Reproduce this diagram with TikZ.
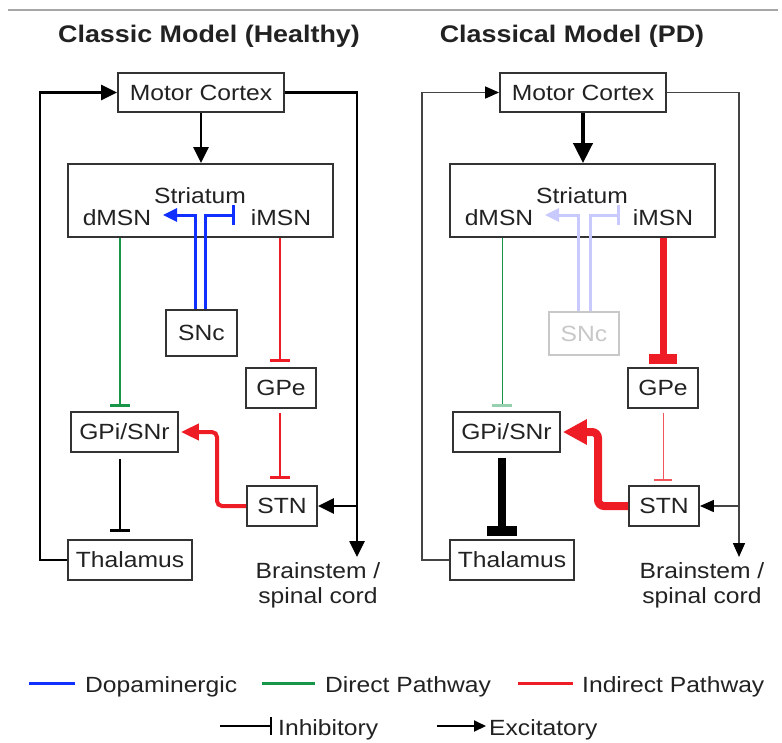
\documentclass[tikz,border=0pt]{standalone}
\usepackage{fontspec}
\setmainfont{Liberation Sans}[FakeStretch=1.12]
\usetikzlibrary{arrows.meta}
\definecolor{boxc}{HTML}{333333}
\definecolor{txtc}{HTML}{222222}
\definecolor{dopc}{HTML}{1030FF}
\definecolor{dirc}{HTML}{17964A}
\definecolor{indc}{HTML}{EE1C25}
\definecolor{fadeb}{HTML}{C8CAFF}
\definecolor{fadeg}{HTML}{C8C8C8}
\definecolor{thinc}{HTML}{444444}
\begin{document}
\begin{tikzpicture}[x=1pt,y=-1pt,
	box/.style={draw=boxc,line width=1.8pt,fill=white,inner sep=0pt,text=txtc,font=\fontsize{22}{25}\selectfont},
	lbl/.style={inner sep=0pt,text=txtc,font=\fontsize{22}{25}\selectfont},
	ttl/.style={inner sep=0pt,text=txtc,font=\bfseries\fontsize{24}{28}\selectfont},
	exc/.style={-{Triangle[length=16pt,width=15pt]}},
	inh/.style={-{Rectangle[length=3pt,width=20pt]}},
	dop/.style={dopc,line width=3pt},
	dir/.style={dirc,line width=2pt},
	ind/.style={indc,line width=2pt},
	blk/.style={black,line width=2.6pt},
	thin/.style={thinc,line width=1.5pt}]
	\useasboundingbox (0,0) rectangle (782,742);
	\draw[gray!70,line width=2pt] (8,10) -- (778,10);
		\node[ttl,anchor=base] (ttlA) at (209,42) {Classic Model (Healthy)};
		\node[box,minimum width=166pt,minimum height=39pt] (mc) at (201,92.5) {Motor Cortex};
		\node[box,minimum width=265pt,minimum height=73pt] (str) at (200.5,200.5) {};
		\node[lbl] (stri) at (200,196) {Striatum};
		\node[lbl] (dmsn) at (117,218) {dMSN};
		\node[lbl] (imsn) at (281,218) {iMSN};
		\node[box,minimum width=71pt,minimum height=46pt] (snc) at (201.5,333) {SNc};
		\node[box,minimum width=107pt,minimum height=40pt] (gpi) at (124.5,432) {GPi/SNr};
		\node[box,minimum width=70pt,minimum height=40pt] (gpe) at (281,388) {GPe};
		\node[box,minimum width=70pt,minimum height=40pt] (stn) at (282,506) {STN};
		\node[box,minimum width=124pt,minimum height=40pt] (thal) at (130,560) {Thalamus};
		\node[lbl,align=center] (bs) at (318,585) {Brainstem /\\spinal cord};
		\coordinate (dx) at (120,0);
		\coordinate (ix) at (280,0);
		\coordinate (kx) at (217,0);
		\coordinate (lp) at (40,0);
		\coordinate (rp) at (357,0);
		\coordinate (bsin) at (357,557);
		\coordinate (da) at (163,215);
		\coordinate (db) at (235,215);
			\draw[blk,exc] (mc.south) -- (mc.south |- str.north);
			\draw[blk,exc] (thal.west) -| (lp |- mc.west) -- (mc.west);
			\draw[blk,exc] (mc.east) -| (bsin);
			\draw[blk,exc] (stn.east -| rp) -- (stn.east);
			\draw[dop,-{Triangle[length=14pt,width=13pt]}] ([xshift=-6pt]snc.north) |- (da);
			\draw[dop,inh] ([xshift=4pt]snc.north) |- (db);
			\draw[dir,inh,shorten >=4pt] (str.south -| dx) -- (gpi.north -| dx);
			\draw[ind,inh,shorten >=5pt] (str.south -| ix) -- (gpe.north -| ix);
			\draw[ind,inh,shorten <=4pt,shorten >=6pt] (gpe.south -| ix) -- (stn.north -| ix);
			\draw[ind,line width=4pt,rounded corners=5pt,shorten >=2pt,-{Triangle[length=18pt,width=16pt]}] (stn.west) -| (kx |- gpi.east) -- (gpi.east);
			\draw[blk,inh,shorten <=6pt,shorten >=7pt] (gpi.south -| dx) -- (thal.north -| dx);
	\begin{scope}[xshift=382pt]
		\node[ttl,anchor=base] (ttlB) at (190,42) {Classical Model (PD)};
		\node[box,minimum width=166pt,minimum height=39pt] (pmc) at (201,92.5) {Motor Cortex};
		\node[box,minimum width=265pt,minimum height=73pt] (pstr) at (200.5,200.5) {};
		\node[lbl] (pstri) at (200,196) {Striatum};
		\node[lbl] (pdmsn) at (117,218) {dMSN};
		\node[lbl] (pimsn) at (281,218) {iMSN};
		\node[box,draw=fadeg,text=fadeg,minimum width=70pt,minimum height=43pt] (psnc) at (202,333.5) {SNc};
		\node[box,minimum width=107pt,minimum height=40pt] (pgpi) at (124.5,432) {GPi/SNr};
		\node[box,minimum width=70pt,minimum height=40pt] (pgpe) at (281,388) {GPe};
		\node[box,minimum width=70pt,minimum height=40pt] (pstn) at (282,506) {STN};
		\node[box,minimum width=124pt,minimum height=40pt] (pthal) at (130,560) {Thalamus};
		\node[lbl,align=center] (pbs) at (320,585) {Brainstem /\\spinal cord};
		\coordinate (pdx) at (120,0);
		\coordinate (pix) at (281,0);
		\coordinate (pkx) at (216,0);
		\coordinate (plp) at (40,0);
		\coordinate (prp) at (357,0);
		\coordinate (pbsin) at (357,557);
		\coordinate (pda) at (163,215);
		\coordinate (pdb) at (238,215);
			\draw[blk,line width=4pt,-{Triangle[length=20pt,width=19pt]}] (pmc.south) -- (pmc.south |- pstr.north);
			\draw[thin,-{Triangle[length=14pt,width=12pt,color=black]}] (pthal.west) -| (plp |- pmc.west) -- (pmc.west);
			\draw[thin,-{Triangle[length=14pt,width=12pt,color=black]}] (pmc.east) -| (pbsin);
			\draw[thin,-{Triangle[length=14pt,width=12pt,color=black]}] (pstn.east -| prp) -- (pstn.east);
			\draw[fadeb,line width=3pt,-{Triangle[length=14pt,width=13pt]}] ([xshift=-6pt]psnc.north) |- (pda);
			\draw[fadeb,line width=3pt,inh] ([xshift=6pt]psnc.north) |- (pdb);
			\draw[dirc,line width=1pt,shorten >=4pt,-{Rectangle[length=3pt,width=20pt,color=dirc!45]}] (pstr.south -| pdx) -- (pgpi.north -| pdx);
			\draw[indc,line width=7pt,shorten >=3pt,-{Rectangle[length=10pt,width=28pt]}] (pstr.south -| pix) -- (pgpe.north -| pix);
			\draw[indc!75,line width=1pt,shorten <=4pt,shorten >=4pt,-{Rectangle[length=2pt,width=18pt]}] (pgpe.south -| pix) -- (pstn.north -| pix);
			\draw[indc,line width=8pt,rounded corners=6pt,shorten >=2pt,-{Triangle[length=24pt,width=24pt]}] (pstn.west) -| (pkx |- pgpi.east) -- (pgpi.east);
			\draw[black,line width=8pt,shorten <=5pt,shorten >=3pt,-{Rectangle[length=10pt,width=30pt]}] (pgpi.south -| pdx) -- (pthal.north -| pdx);
	\end{scope}
		\node[lbl,anchor=base west] (lgdop) at (85,692) {Dopaminergic};
		\node[lbl,anchor=base west] (lgdir) at (325,692) {Direct Pathway};
		\node[lbl,anchor=base west] (lgind) at (582,692) {Indirect Pathway};
		\node[lbl,anchor=base west] (lginh) at (278,735) {Inhibitory};
		\node[lbl,anchor=base west] (lgexc) at (489,735) {Excitatory};
			\draw[dop] ([xshift=-56pt,yshift=9pt]lgdop.base west) -- ([xshift=-10pt,yshift=9pt]lgdop.base west);
			\draw[dirc,line width=3pt] ([xshift=-63pt,yshift=9pt]lgdir.base west) -- ([xshift=-10pt,yshift=9pt]lgdir.base west);
			\draw[indc,line width=3pt] ([xshift=-64pt,yshift=9pt]lgind.base west) -- ([xshift=-9pt,yshift=9pt]lgind.base west);
			\draw[black,line width=2pt,-{Rectangle[length=2.5pt,width=18pt]}] ([xshift=-58pt,yshift=9pt]lginh.base west) -- ([xshift=-6pt,yshift=9pt]lginh.base west);
			\draw[black,line width=2pt,-{Triangle[length=12pt,width=11pt]}] ([xshift=-52pt,yshift=9pt]lgexc.base west) -- ([xshift=-3pt,yshift=9pt]lgexc.base west);
\end{tikzpicture}
\end{document}
